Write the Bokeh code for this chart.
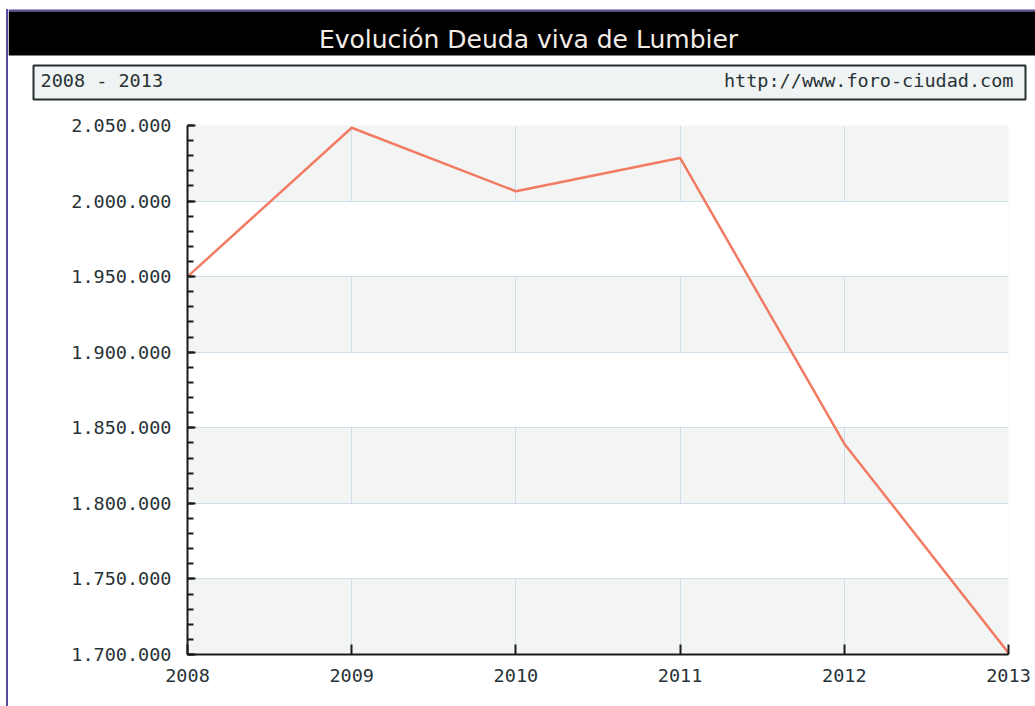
from bokeh.plotting import figure
from bokeh.models import Range1d, SingleIntervalTicker, FixedTicker, Spacer
from bokeh.layouts import column, row
from bokeh.core.properties import value
from bokeh.embed import file_html
from bokeh.resources import INLINE

# ---- data ----
years = [2008, 2009, 2010, 2011, 2012, 2013]
deuda = [1950000, 2048500, 2006500, 2028500, 1839500, 1701000]
y_ticks = [1700000, 1750000, 1800000, 1850000, 1900000, 1950000, 2000000, 2050000]
y_labels = ["1.700.000", "1.750.000", "1.800.000", "1.850.000",
            "1.900.000", "1.950.000", "2.000.000", "2.050.000"]
title_text = "Evolución Deuda viva de Lumbier"
period_text = "2008 - 2013"
source_text = "http://www.foro-ciudad.com"

PURPLE = "#5b4ba0"
MONO = "DejaVu Sans Mono"
TXT = "#283236"
FW = 1027          # width of header and chart canvases (page x 8..1035)
HH = 110           # header height (page y 0..110)
MH = 706 - HH      # chart height

# ---- header: data coordinates equal page pixels ----
h = figure(width=FW, height=HH, x_range=Range1d(8, 8 + FW), y_range=Range1d(HH, 0),
           x_axis_type=None, y_axis_type=None, toolbar_location=None,
           output_backend="svg", min_border=0, outline_line_color=None,
           background_fill_color="white", border_fill_color="white")
h.frame_align = False
h.xgrid.visible = False
h.ygrid.visible = False
h.quad(left=[8], right=[8 + FW], top=[9], bottom=[11], fill_color=PURPLE, line_color=None)
h.quad(left=[8], right=[8 + FW], top=[11], bottom=[55], fill_color="black", line_color=None)
h.quad(left=[33], right=[1025], top=[65], bottom=[99], fill_color="#f0f3f3",
       line_color="#24302f", line_width=2)
h.text(x=[528], y=[39], text=[title_text], text_font=value("DejaVu Sans"),
       text_font_size="25px", text_color="#f4ece7", text_align="center",
       text_baseline="alphabetic")
h.text(x=[40], y=[80], text=[period_text], text_font=value(MONO),
       text_font_size="18.5px", text_color=TXT, text_align="left",
       text_baseline="alphabetic")
h.text(x=[1013], y=[80], text=[source_text], text_font=value(MONO),
       text_font_size="18.5px", text_color=TXT, text_align="right",
       text_baseline="alphabetic")

# ---- main chart ----
p = figure(width=FW, height=MH,
           x_range=Range1d(years[0], years[-1]),
           y_range=Range1d(y_ticks[0], y_ticks[-1]),
           toolbar_location=None, output_backend="svg",
           min_border_left=179, min_border_right=27,
           min_border_top=15, min_border_bottom=52,
           outline_line_color=None,
           background_fill_color="#f3f5f5", border_fill_color="white")
p.frame_align = False

p.line(years, deuda, line_color="#f27b63", line_width=2.5)

p.yaxis.ticker = SingleIntervalTicker(interval=y_ticks[1] - y_ticks[0], num_minor_ticks=5)
p.yaxis.major_label_overrides = {t: l for t, l in zip(y_ticks, y_labels)}
p.xaxis.ticker = FixedTicker(ticks=years)

for ax in (p.xaxis, p.yaxis):
    ax.axis_line_width = 2
    ax.axis_line_color = "#1b1b1b"
    ax.major_tick_line_color = "#1b1b1b"
    ax.major_tick_line_width = 2
    ax.minor_tick_line_color = "#1b1b1b"
    ax.minor_tick_line_width = 2
    ax.major_tick_out = 0
    ax.minor_tick_out = 0
    ax.major_label_text_font = MONO
    ax.major_label_text_font_size = "18.5px"
    ax.major_label_text_color = TXT

p.yaxis.major_tick_in = 8
p.yaxis.minor_tick_in = 6
p.yaxis.major_label_standoff = 16
p.xaxis.major_tick_in = 10
p.xaxis.minor_tick_line_color = None
p.xaxis.major_label_standoff = 14

p.xgrid.grid_line_color = "#cfdee8"
p.xgrid.grid_line_width = 1
p.ygrid.grid_line_color = "#cfdee8"
p.ygrid.grid_line_width = 1
p.ygrid.band_fill_color = "white"
p.ygrid.band_fill_alpha = 1.0

gap = Spacer(width=6, height=706)
strip = Spacer(width=2, height=706,
               styles={"background": "linear-gradient(to bottom, white 9px, %s 9px)" % PURPLE})
layout = row(gap, strip, column(h, p))

open("out.html", "w").write(file_html(layout, INLINE))
